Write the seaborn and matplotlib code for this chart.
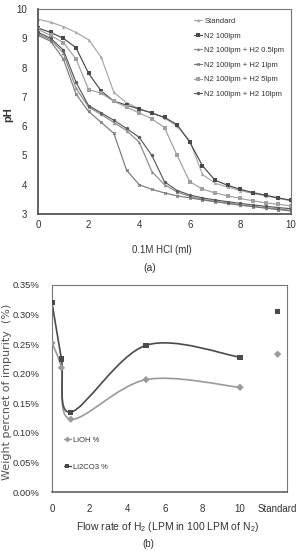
import numpy as np
import pandas as pd
import matplotlib
matplotlib.use("Agg")
import matplotlib.pyplot as plt
from matplotlib.path import Path
from matplotlib.patches import PathPatch
from matplotlib.lines import Line2D
import seaborn as sns

# ---------------- data ----------------
hcl_ml = [0, 0.5, 1, 1.5, 2, 2.5, 3, 3.5, 4, 4.5, 5, 5.5, 6, 6.5, 7, 7.5, 8, 8.5, 9, 9.5, 10]
ph_standard = [9.65, 9.55, 9.4, 9.2, 8.95, 8.35, 7.15, 6.8, 6.6, 6.45, 6.28, 6.0, 5.5, 4.35, 4.05, 3.92, 3.8, 3.7, 3.62, 3.53, 3.45]
ph_n2 = [9.35, 9.2, 9.0, 8.68, 7.8, 7.2, 6.85, 6.72, 6.58, 6.45, 6.3, 6.05, 5.45, 4.65, 4.15, 3.98, 3.84, 3.73, 3.64, 3.55, 3.47]
ph_h2_05 = [9.15, 8.95, 8.5, 7.3, 6.65, 6.4, 6.12, 5.85, 5.45, 4.45, 4.0, 3.75, 3.6, 3.5, 3.43, 3.37, 3.31, 3.26, 3.21, 3.17, 3.13]
ph_h2_1 = [9.1, 8.9, 8.3, 7.1, 6.5, 6.13, 5.75, 4.5, 4.0, 3.84, 3.72, 3.62, 3.55, 3.48, 3.42, 3.36, 3.3, 3.25, 3.2, 3.15, 3.1]
ph_h2_5 = [9.3, 9.1, 8.85, 8.3, 7.25, 7.12, 6.85, 6.65, 6.45, 6.25, 5.95, 5.0, 4.1, 3.85, 3.72, 3.62, 3.53, 3.45, 3.38, 3.33, 3.28]
ph_h2_10 = [9.2, 9.0, 8.6, 7.5, 6.7, 6.45, 6.2, 5.92, 5.62, 5.0, 4.1, 3.8, 3.65, 3.55, 3.48, 3.42, 3.36, 3.31, 3.26, 3.22, 3.18]
series_names = ["Standard", "N2 100lpm", "N2 100lpm + H2 0.5lpm", "N2 100lpm + H2 1lpm",
                "N2 100lpm + H2 5lpm", "N2 100lpm + H2 10lpm"]

h2_flow = [0, 0.5, 1, 5, 10]
standard_pos = 12
lioh_pct = [0.252, 0.21, 0.123, 0.19, 0.177]
lioh_standard = 0.233
li2co3_pct = [0.32, 0.225, 0.135, 0.248, 0.228]
li2co3_standard = 0.305
x_ticks_b = [0, 2, 4, 6, 8, 10, 12]
x_ticklabels_b = ["0", "2", "4", "6", "8", "10", "Standard"]

# ---------------- style ----------------
sns.set_style("white")
plt.rcParams["font.family"] = ["Liberation Sans", "DejaVu Sans"]
plt.rcParams["mathtext.default"] = "regular"

W, H = 296, 551
fig = plt.figure(figsize=(W / 100, H / 100), dpi=100)


def box(l, t, r, b):
    return [l / W, 1 - b / H, (r - l) / W, (b - t) / H]


# ---------------- top chart ----------------
ax1 = fig.add_axes(box(38, 9, 291, 214))
ph_series = [ph_standard, ph_n2, ph_h2_05, ph_h2_1, ph_h2_5, ph_h2_10]
df = pd.DataFrame({
    "HCl": np.tile(hcl_ml, len(series_names)),
    "pH": np.concatenate(ph_series),
    "series": np.repeat(series_names, len(hcl_ml)),
})
colors = ["#a8a8a8", "#4a4a4a", "#8c8c8c", "#7a7a7a", "#a0a0a0", "#5a5a5a"]
markers = ["^", "s", "^", "X", "s", "o"]
sns.lineplot(data=df, x="HCl", y="pH", hue="series", style="series",
             hue_order=series_names, style_order=series_names,
             palette=colors, markers=markers, dashes=False, markersize=2.4,
             linewidth=0.85, markeredgewidth=0, ax=ax1, legend=True)
ax1.set_xlim(0, 10)
ax1.set_ylim(3, 10)
ax1.set_xticks([0, 2, 4, 6, 8, 10])
ax1.set_yticks([3, 4, 5, 6, 7, 8, 9, 10])
ax1.tick_params(direction="in", length=2.5, width=0.7, colors="#555555",
                labelsize=7, labelcolor="#333333")
ax1.tick_params(axis="y", pad=8)
ax1.tick_params(axis="x", pad=4)
for s in ax1.spines.values():
    s.set_color("#777777")
    s.set_linewidth(0.8)
for side in ("bottom", "left"):
    ax1.spines[side].set_color("#555555")
    ax1.spines[side].set_linewidth(1.3)
ax1.set_xlabel("")
ax1.set_ylabel("")
leg = ax1.legend(loc="upper left", bbox_to_anchor=(0.615, 0.958), frameon=False,
                 fontsize=5.5, handlelength=1.1, handletextpad=0.3, labelspacing=0.95,
                 borderpad=0, borderaxespad=0)
for t in leg.get_texts():
    t.set_color("#333333")
fig.text(8 / W, 1 - 115 / H, "pH", rotation=90, ha="center", va="center",
         fontsize=8, fontweight="bold", color="#333333")
fig.text(162 / W, 1 - 250 / H, "0.1M HCl (ml)", ha="center", va="center",
         fontsize=7, color="#333333")
fig.text(150 / W, 1 - 268 / H, "(a)", ha="center", va="center", fontsize=7.5,
         color="#333333")

# ---------------- bottom chart ----------------
ax2 = fig.add_axes(box(52, 285, 287, 492))


def smooth_path(xs, ys):
    pts = np.column_stack([xs, ys]).astype(float)
    n = len(pts)
    verts = [pts[0]]
    codes = [Path.MOVETO]
    for i in range(n - 1):
        p0 = pts[i - 1] if i > 0 else pts[i]
        p1 = pts[i]
        p2 = pts[i + 1]
        p3 = pts[i + 2] if i + 2 < n else pts[i + 1]
        c1 = p1 + (p2 - p0) / 6.0
        c2 = p2 - (p3 - p1) / 6.0
        verts += [c1, c2, p2]
        codes += [Path.CURVE4] * 3
    return Path(verts, codes)


c_lioh = "#9a9a9a"
c_li2 = "#4a4a4a"
for vals, col in [(lioh_pct, c_lioh), (li2co3_pct, c_li2)]:
    ax2.add_patch(PathPatch(smooth_path(h2_flow, vals), facecolor="none",
                            edgecolor=col, linewidth=1.2))
dfb = pd.DataFrame({
    "x": h2_flow + [standard_pos] + h2_flow + [standard_pos],
    "y": lioh_pct + [lioh_standard] + li2co3_pct + [li2co3_standard],
    "kind": ["LiOH %"] * 6 + ["Li2CO3 %"] * 6,
})
sns.scatterplot(data=dfb, x="x", y="y", hue="kind", style="kind",
                palette={"LiOH %": c_lioh, "Li2CO3 %": c_li2},
                markers={"LiOH %": "D", "Li2CO3 %": "s"}, s=14, linewidth=0,
                ax=ax2, legend=False, zorder=3)
ax2.set_xlim(0, 12.5)
ax2.set_ylim(0, 0.35)
ax2.set_xticks(x_ticks_b)
ax2.set_xticklabels(x_ticklabels_b)
yt = [0, 0.05, 0.10, 0.15, 0.20, 0.25, 0.30, 0.35]
ax2.set_yticks(yt)
ax2.set_yticklabels([f"{v:.2f}%" for v in yt])
ax2.tick_params(axis="x", direction="in", length=2.5, width=0.7, colors="#555555",
                labelsize=7, labelcolor="#333333", pad=9)
ax2.tick_params(axis="y", length=0, labelsize=6.8, labelcolor="#333333", pad=9)
for s in ax2.spines.values():
    s.set_color("#777777")
    s.set_linewidth(0.8)
ax2.spines["bottom"].set_color("#555555")
ax2.spines["bottom"].set_linewidth(1.1)
ax2.set_xlabel("")
ax2.set_ylabel("")
handles = [
    Line2D([], [], color=c_lioh, marker="D", markersize=3, markeredgewidth=0, linewidth=1.0),
    Line2D([], [], color=c_li2, marker="s", markersize=3, markeredgewidth=0, linewidth=1.0),
]
leg2 = ax2.legend(handles, ["LiOH %", "Li2CO3 %"], loc="upper left",
                  bbox_to_anchor=(0.05, 0.268), frameon=False, fontsize=5.5,
                  handlelength=0.9, handletextpad=0.25, labelspacing=2.55,
                  borderpad=0, borderaxespad=0)
for t in leg2.get_texts():
    t.set_color("#333333")
fig.text(7 / W, 1 - 392 / H, "Weight percnet of impurity  (%)", rotation=90,
         ha="center", va="center", fontsize=8, color="#555555", family="DejaVu Sans")
fig.text(168 / W, 1 - 527 / H, "Flow rate of H$_2$ (LPM in 100 LPM of N$_2$)",
         ha="center", va="center", fontsize=7.5, color="#333333")
fig.text(148 / W, 1 - 544 / H, "(b)", ha="center", va="center", fontsize=7,
         color="#333333")

fig.savefig("out.png", dpi=100)
